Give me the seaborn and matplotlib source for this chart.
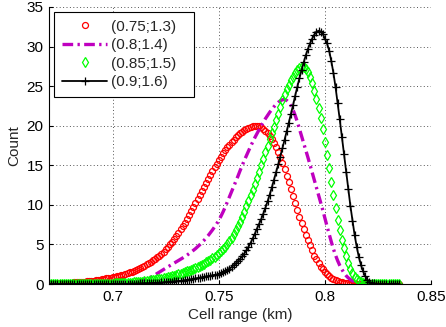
import numpy as np
import pandas as pd
import matplotlib
matplotlib.use("Agg")
import matplotlib.pyplot as plt
import seaborn as sns

# ---------------- data ----------------
cell_range = np.round(np.arange(0.670, 0.8355, 0.001), 3)

count_075_13 = [
    0.04, 0.05, 0.05, 0.06, 0.07, 0.08, 0.09, 0.10, 0.12, 0.13,
    0.15, 0.17, 0.19, 0.21, 0.23, 0.25, 0.28, 0.31, 0.34, 0.37,
    0.40, 0.44, 0.48, 0.52, 0.56, 0.60, 0.65, 0.70, 0.75, 0.80,
    0.85, 0.91, 0.98, 1.05, 1.12, 1.20, 1.28, 1.37, 1.46, 1.55,
    1.65, 1.77, 1.90, 2.03, 2.17, 2.32, 2.48, 2.65, 2.83, 3.02,
    3.20, 3.40, 3.60, 3.85, 4.10, 4.40, 4.70, 5.00, 5.35, 5.70,
    6.10, 6.50, 6.90, 7.30, 7.75, 8.20, 8.70, 9.20, 9.70, 10.20,
    10.70, 11.20, 11.75, 12.30, 12.80, 13.30, 13.80, 14.30, 14.75, 15.20,
    15.65, 16.10, 16.50, 16.90, 17.25, 17.60, 17.95, 18.25, 18.55, 18.80,
    19.05, 19.25, 19.45, 19.60, 19.75, 19.85, 19.95, 20.00, 19.98, 19.92,
    19.80, 19.60, 19.35, 19.05, 18.70, 18.30, 17.80, 17.25, 16.65, 16.00,
    15.30, 14.50, 13.70, 12.85, 12.00, 11.10, 10.20, 9.35, 8.50, 7.70,
    6.90, 6.20, 5.50, 4.90, 4.25, 3.60, 3.10, 2.60, 2.20, 1.85,
    1.50, 1.22, 0.98, 0.78, 0.60, 0.46, 0.35, 0.26, 0.19, 0.14,
    0.10, 0.07, 0.05, 0.03, 0.02, 0.01, 0.01, 0, 0, 0,
    0, 0, 0, 0, 0, 0, 0, 0, 0, 0,
    0, 0, 0, 0, 0, 0,
]

count_080_14 = [
    0, 0, 0, 0, 0, 0, 0, 0, 0, 0,
    0.01, 0.01, 0.01, 0.01, 0.02, 0.02, 0.02, 0.02, 0.03, 0.03,
    0.03, 0.04, 0.04, 0.05, 0.05, 0.06, 0.07, 0.08, 0.09, 0.10,
    0.11, 0.12, 0.14, 0.15, 0.17, 0.19, 0.21, 0.23, 0.26, 0.28,
    0.31, 0.35, 0.39, 0.44, 0.50, 0.57, 0.66, 0.76, 0.88, 1.02,
    1.17, 1.33, 1.50, 1.67, 1.84, 2.00, 2.16, 2.32, 2.48, 2.64,
    2.80, 2.96, 3.12, 3.29, 3.46, 3.64, 3.83, 4.03, 4.24, 4.46,
    4.70, 4.95, 5.22, 5.50, 5.80, 6.12, 6.46, 6.82, 7.20, 7.60,
    8.05, 8.55, 9.10, 9.70, 10.35, 11.00, 11.65, 12.30, 12.95, 13.60,
    14.30, 14.95, 15.60, 16.20, 16.80, 17.40, 17.95, 18.50, 19.00, 19.50,
    20.00, 20.45, 20.90, 21.30, 21.70, 22.05, 22.40, 22.70, 22.95, 23.15,
    23.28, 23.30, 23.20, 22.95, 22.55, 22.00, 21.30, 20.50, 19.60, 18.70,
    17.80, 16.90, 16.00, 15.05, 14.10, 13.15, 12.20, 11.25, 10.30, 9.35,
    8.30, 7.30, 6.30, 5.35, 4.45, 3.65, 2.95, 2.35, 1.85, 1.40,
    1.05, 0.78, 0.57, 0.41, 0.29, 0.20, 0.13, 0.08, 0.05, 0.03,
    0.02, 0.01, 0, 0, 0, 0, 0, 0, 0, 0,
    0, 0, 0, 0, 0, 0,
]

count_085_15 = [
    0, 0, 0, 0, 0, 0, 0, 0, 0, 0,
    0, 0, 0, 0, 0.01, 0.01, 0.01, 0.01, 0.01, 0.01,
    0.02, 0.02, 0.02, 0.03, 0.03, 0.03, 0.04, 0.04, 0.05, 0.05,
    0.06, 0.07, 0.08, 0.09, 0.10, 0.11, 0.12, 0.14, 0.16, 0.18,
    0.20, 0.22, 0.25, 0.28, 0.31, 0.34, 0.37, 0.41, 0.45, 0.49,
    0.53, 0.58, 0.63, 0.68, 0.74, 0.80, 0.86, 0.93, 1.00, 1.07,
    1.14, 1.22, 1.30, 1.39, 1.48, 1.58, 1.68, 1.79, 1.90, 2.02,
    2.14, 2.27, 2.41, 2.56, 2.72, 2.89, 3.07, 3.26, 3.46, 3.67,
    3.90, 4.15, 4.42, 4.72, 5.05, 5.42, 5.83, 6.28, 6.77, 7.30,
    7.87, 8.48, 9.12, 9.80, 10.50, 11.20, 11.92, 12.65, 13.40, 14.15,
    15.00, 15.85, 16.70, 17.50, 18.30, 19.10, 19.90, 20.70, 21.50, 22.40,
    23.30, 24.00, 24.60, 25.20, 25.75, 26.20, 26.60, 27.00, 27.30, 27.45,
    27.40, 27.15, 26.75, 26.15, 25.35, 24.40, 23.35, 22.20, 20.95, 19.60,
    17.90, 16.30, 14.60, 12.90, 11.20, 9.60, 8.10, 6.80, 5.60, 4.50,
    3.50, 2.65, 1.95, 1.35, 0.90, 0.58, 0.36, 0.21, 0.12, 0.07,
    0.04, 0.02, 0.01, 0, 0, 0, 0, 0, 0, 0,
    0, 0, 0, 0, 0, 0,
]

count_090_16 = [
    0, 0, 0, 0, 0, 0, 0, 0, 0, 0,
    0, 0, 0, 0, 0, 0, 0, 0, 0, 0,
    0, 0, 0, 0, 0, 0, 0, 0, 0, 0,
    0.01, 0.01, 0.01, 0.02, 0.02, 0.02, 0.03, 0.03, 0.04, 0.04,
    0.05, 0.05, 0.06, 0.07, 0.08, 0.09, 0.10, 0.11, 0.12, 0.13,
    0.14, 0.16, 0.17, 0.19, 0.21, 0.23, 0.25, 0.27, 0.29, 0.32,
    0.35, 0.38, 0.41, 0.44, 0.48, 0.52, 0.56, 0.60, 0.65, 0.70,
    0.75, 0.80, 0.85, 0.90, 0.95, 1.00, 1.05, 1.10, 1.15, 1.20,
    1.27, 1.36, 1.47, 1.60, 1.75, 1.93, 2.13, 2.36, 2.61, 2.88,
    3.17, 3.50, 3.85, 4.25, 4.70, 5.20, 5.75, 6.35, 7.00, 7.60,
    8.20, 8.90, 9.65, 10.45, 11.30, 12.20, 13.15, 14.10, 15.10, 16.10,
    17.15, 18.20, 19.30, 20.40, 21.50, 22.60, 23.80, 24.90, 26.00, 27.00,
    28.00, 28.90, 29.70, 30.40, 31.00, 31.50, 31.85, 32.00, 31.90, 31.60,
    31.00, 30.40, 29.50, 28.20, 26.70, 24.90, 22.90, 20.80, 18.60, 16.40,
    14.20, 12.00, 9.90, 8.00, 6.20, 4.70, 3.40, 2.40, 1.60, 1.00,
    0.55, 0.30, 0.15, 0.07, 0.03, 0.01, 0, 0, 0, 0,
    0, 0, 0, 0, 0, 0,
]

series_labels = ["(0.75;1.3)", "(0.8;1.4)", "(0.85;1.5)", "(0.9;1.6)"]
x_ticks = [0.7, 0.75, 0.8, 0.85]
x_tick_labels = ["0.7", "0.75", "0.8", "0.85"]
y_ticks = [0, 5, 10, 15, 20, 25, 30, 35]
x_label = "Cell range (km)"
y_label = "Count"

# ---------------- style ----------------
sns.set_style("ticks")
plt.rcParams["font.family"] = ["Liberation Sans", "DejaVu Sans"]
plt.rcParams["font.size"] = 11

fig = plt.figure(figsize=(4.46, 3.27), dpi=100)
W, H = 446, 327
ax = fig.add_axes([49 / W, 1 - 284 / H, (431 - 49) / W, (284 - 7) / H])

magenta = "#BF00BF"

sns.lineplot(x=cell_range, y=count_075_13, ax=ax, errorbar=None,
             label=series_labels[0], color="red", linestyle="none",
             marker="o", markersize=4.3, markerfacecolor="none",
             markeredgecolor="red", markeredgewidth=0.9)
sns.lineplot(x=cell_range, y=count_080_14, ax=ax, errorbar=None,
             label=series_labels[1], color=magenta, linewidth=2.4,
             linestyle=(0, (3.2, 1.3, 0.7, 1.3)))
sns.lineplot(x=cell_range, y=count_085_15, ax=ax, errorbar=None,
             label=series_labels[2], color="#00FF00", linestyle="none",
             marker="d", markersize=5.0, markerfacecolor="none",
             markeredgecolor="#00FF00", markeredgewidth=0.9)
sns.lineplot(x=cell_range, y=count_090_16, ax=ax, errorbar=None,
             label=series_labels[3], color="black", linewidth=1.3,
             marker="+", markersize=5.5, markeredgecolor="black",
             markeredgewidth=0.9)

ax.set_xlim(0.67, 0.85)
ax.set_ylim(0, 35)
ax.set_xticks(x_ticks)
ax.set_xticklabels(x_tick_labels)
ax.set_yticks(y_ticks)
ax.set_xlabel(x_label, fontsize=11, labelpad=3)
ax.set_ylabel(y_label, fontsize=11, labelpad=4)

ax.grid(True, linestyle=(0, (1, 2.5)), color="#555555", linewidth=0.7)
for s in ["top", "right"]:
    ax.spines[s].set_visible(False)
for s in ["left", "bottom"]:
    ax.spines[s].set_color("black")
    ax.spines[s].set_linewidth(0.8)
ax.tick_params(direction="in", length=3, width=0.8, labelsize=11,
               colors="black", pad=4)

# legend box spans x 54..194 px, top at 12 px in the reference
ax_w, ax_h = 431 - 49, 284 - 7
leg = ax.legend(loc="upper left", numpoints=1, frameon=True, fancybox=False,
                edgecolor="black", framealpha=1, fontsize=11,
                bbox_to_anchor=((54 - 49) / ax_w, (284 - 97) / ax_h,
                                (194 - 54) / ax_w, (97 - 12) / ax_h),
                mode="expand", borderaxespad=0,
                handlelength=3.0, labelspacing=0.3,
                handletextpad=0.25, borderpad=0.5)
leg.get_frame().set_linewidth(0.8)

fig.savefig("out.png", dpi=100)
